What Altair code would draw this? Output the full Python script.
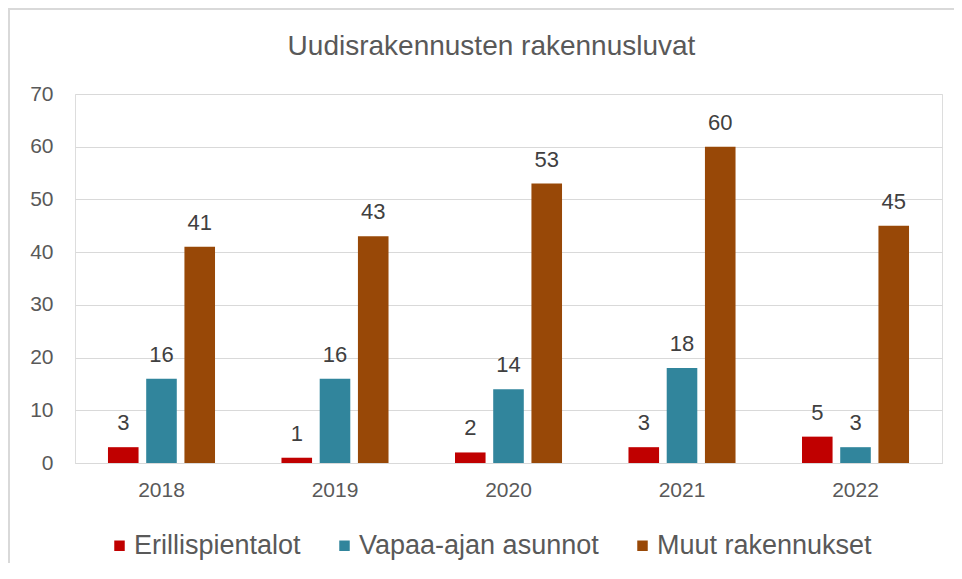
import altair as alt
import pandas as pd

years = ["2018", "2019", "2020", "2021", "2022"]
series = ["Erillispientalot", "Vapaa-ajan asunnot", "Muut rakennukset"]
erillis = [3, 1, 2, 3, 5]
vapaa = [16, 16, 14, 18, 3]
muut = [41, 43, 53, 60, 45]
colors = ["#C00000", "#31859C", "#984807"]
title_text = "Uudisrakennusten rakennusluvat"

rows = []
for i, y in enumerate(years):
    for s, vals in zip(series, [erillis, vapaa, muut]):
        rows.append({"Vuosi": y, "Sarja": s, "Arvo": vals[i]})
df = pd.DataFrame(rows)

W, H = 867, 369
FONT = "Liberation Sans"

x = alt.X("Vuosi:N", sort=years, title=None,
          scale=alt.Scale(paddingInner=0.383, paddingOuter=0.19),
          axis=alt.Axis(labelAngle=0, labelFontSize=21, labelColor="#595959",
                        labelPadding=16, ticks=False, domain=True,
                        domainColor="#d9d9d9", labelFont=FONT))
y = alt.Y("Arvo:Q", title=None,
          scale=alt.Scale(domain=[0, 70]),
          axis=alt.Axis(values=list(range(0, 80, 10)), labelFontSize=21,
                        labelColor="#595959", labelPadding=22, ticks=False,
                        domain=False, gridColor="#d9d9d9", labelFont=FONT))
xo = alt.XOffset("Sarja:N", sort=series,
                 scale=alt.Scale(paddingInner=0.2, paddingOuter=0))

base = alt.Chart(df)
bars = base.mark_bar().encode(
    x=x, y=y, xOffset=xo,
    color=alt.Color("Sarja:N", sort=series,
                    scale=alt.Scale(domain=series, range=colors),
                    legend=alt.Legend(title=None, orient="none", direction="horizontal",
                                      legendX=31, legendY=438,
                                      symbolType="square", symbolSize=110,
                                      symbolStrokeWidth=0,
                                      labelFontSize=27, labelColor="#595959",
                                      labelFont=FONT, labelOffset=1,
                                      labelLimit=400,
                                      columnPadding=30)),
)
labels = base.mark_text(dy=-17, baseline="alphabetic", fontSize=22,
                        color="#404040", font=FONT).encode(
    x=x, y=y, xOffset=xo, text="Arvo:Q")

frame = alt.Chart(pd.DataFrame({"a": [0]})).mark_rect(
    fill=None, stroke="#d9d9d9", strokeWidth=2, clip=False).encode(
    x=alt.value(-66), x2=alt.value(W + 60), y=alt.value(-85), y2=alt.value(H + 160))

title = alt.Chart(pd.DataFrame({"t": [title_text]})).mark_text(
    fontSize=28, color="#595959", font=FONT, align="center",
    baseline="alphabetic").encode(
    x=alt.value(W / 2 - 17), y=alt.value(-39), text="t:N")

chart = alt.layer(frame, title, bars, labels).properties(
    width=W, height=H,
    autosize=alt.AutoSizeParams(type="none"),
    padding={"left": 67, "top": 86, "right": 12, "bottom": 100},
).configure_view(stroke=None).configure(background="white")

chart.save("out.html", embed_options={"renderer": "svg", "actions": False})
